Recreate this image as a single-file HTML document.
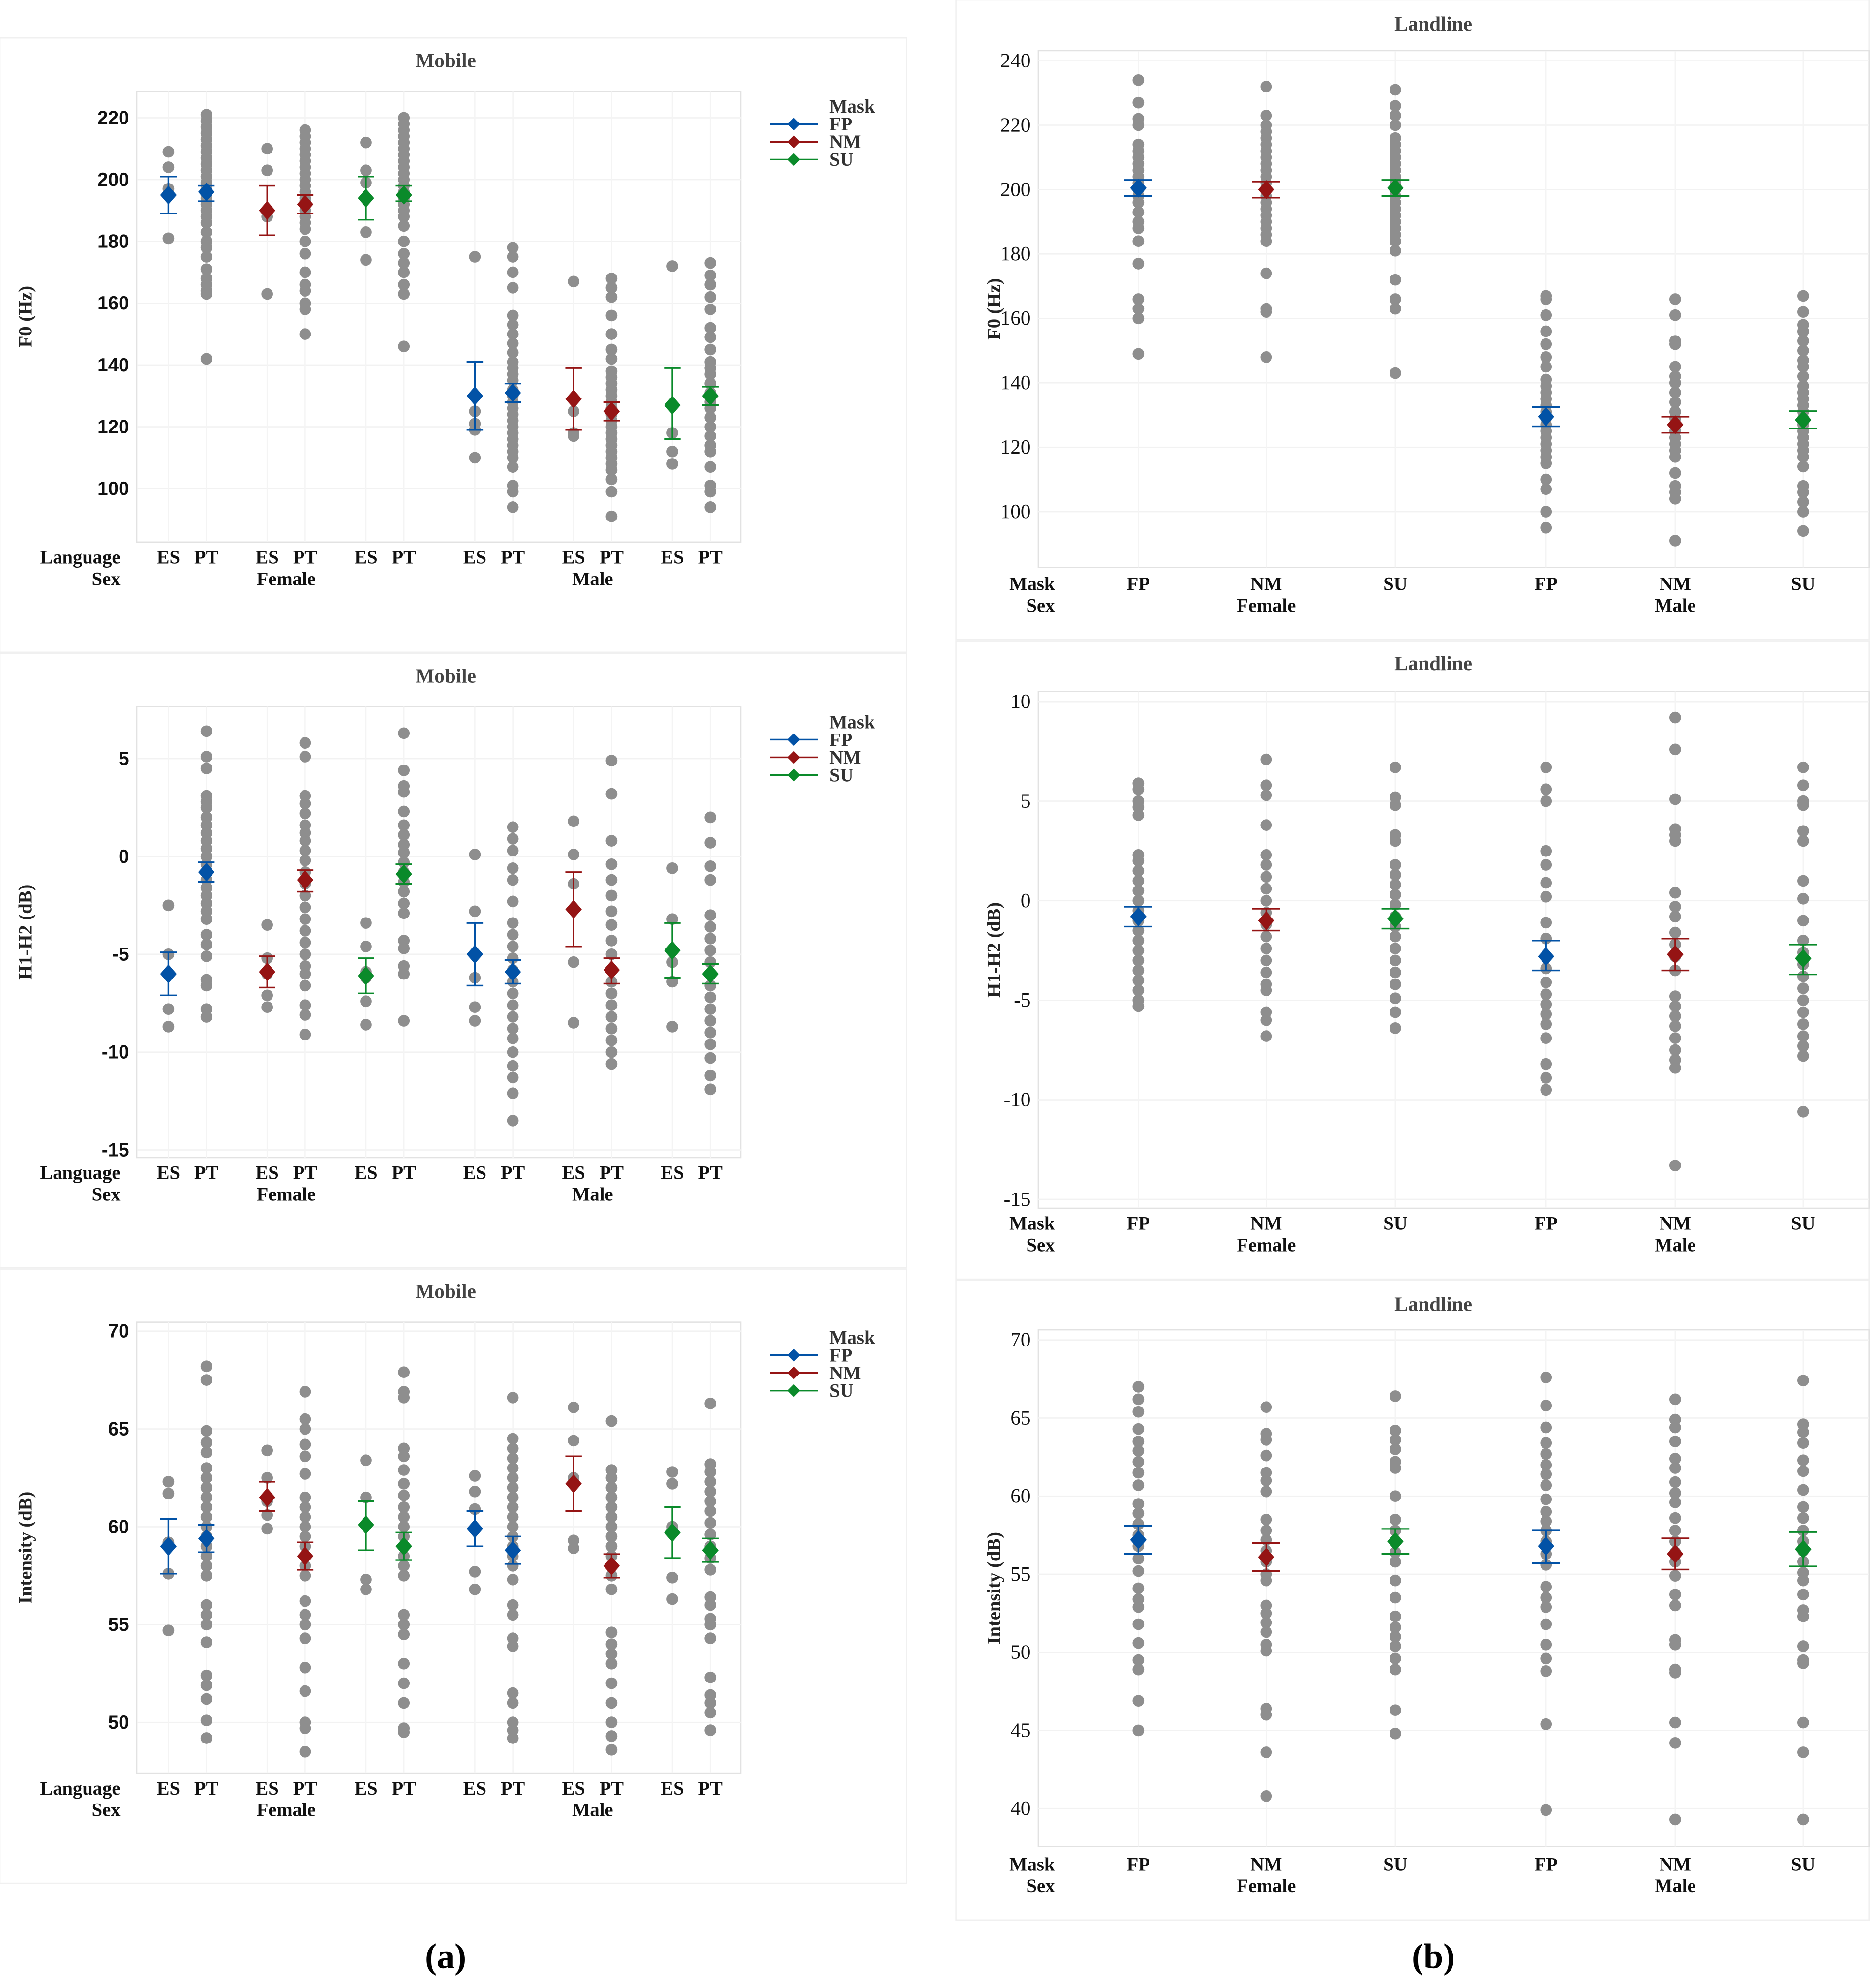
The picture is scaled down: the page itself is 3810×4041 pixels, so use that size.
<!DOCTYPE html>
<html><head><meta charset="utf-8"><style>
html,body{margin:0;padding:0;background:#fff;}
svg{display:block;}
.t{font-family:"Liberation Serif",serif;}
</style></head><body>
<svg id="chart" width="3810" height="4041" viewBox="0 0 1480 1569.7" preserveAspectRatio="none" xmlns="http://www.w3.org/2000/svg"></svg>
<script>
// ===== Mobile F0 =====
const mobF0Pts = [
[209,204,197,195,181],
[221,219,217,215,213,211,209,207,205,203,201,199,198,197,196,195,194,193,192,190,188,186,183,180,178,175,171,168,166,164,163,142],
[210,203,188,163],
[216,214,212,210,208,206,204,202,200,198,196,194,193,192,190,188,186,184,180,176,170,166,164,160,158,150],
[212,203,199,183,174],
[220,218,216,214,212,210,208,206,204,202,200,198,196,195,194,192,190,188,185,180,176,173,170,166,163,146],
[175,125,121,119,110],
[178,175,170,165,156,153,150,147,144,141,139,137,135,132,130,128,126,124,122,120,118,116,114,112,110,107,101,99,94],
[167,125,118,117],
[168,165,162,156,150,145,142,138,136,134,132,130,128,126,124,122,120,118,116,114,112,110,108,106,103,99,91],
[172,118,112,108],
[173,169,166,162,158,152,149,145,141,139,137,134,131,128,126,123,120,117,114,112,107,101,99,94]];
const mobF0Mean = [195,196,190,192,194,195,130,131,129,125,127,130];
const mobF0Lo = [189,193,182,189,187,193,119,128,119,122,116,127];
const mobF0Hi = [201,198,198,195,201,198,141,134,139,128,139,133];
const mobF0Ticks = [100,120,140,160,180,200,220];
// ===== Mobile H1-H2 =====
const mobH1Pts = [
[-2.5,-5,-6,-7.8,-8.7],
[6.4,5.1,4.5,3.1,2.8,2.5,2,1.6,1.2,0.8,0.4,0,-0.4,-0.8,-1.2,-1.6,-2,-2.4,-2.8,-3.2,-4,-4.5,-5.1,-6.3,-6.6,-7.8,-8.2],
[-3.5,-5.2,-6,-7.1,-7.7],
[5.8,5.1,3.1,2.7,2.2,1.6,1.2,0.8,0.3,-0.2,-0.8,-1.4,-2,-2.6,-3.2,-3.8,-4.4,-5,-5.6,-6,-6.6,-7.6,-8.1,-9.1],
[-3.4,-4.6,-5.9,-6.2,-7.4,-8.6],
[6.3,4.4,3.6,3.3,2.3,1.6,1.1,0.6,0.2,-0.3,-0.8,-1.3,-1.8,-2.4,-2.9,-4.3,-4.7,-5.6,-6,-8.4],
[0.1,-2.8,-6.2,-7.7,-8.4],
[1.5,0.9,0.3,-0.6,-1.2,-2.3,-3.4,-4,-4.6,-5.2,-5.8,-6.4,-7,-7.6,-8.2,-8.8,-9.3,-10,-10.7,-11.3,-12.1,-13.5],
[1.8,0.1,-1.4,-5.4,-8.5],
[4.9,3.2,0.8,-0.4,-1.2,-2,-2.8,-3.5,-4.3,-5,-5.8,-6.4,-7,-7.6,-8.2,-8.8,-9.4,-10,-10.6],
[-0.6,-3.2,-5.4,-6.4,-8.7],
[2,0.7,-0.5,-1.2,-3,-3.6,-4.2,-4.8,-5.4,-6,-6.6,-7.2,-7.8,-8.4,-9,-9.6,-10.3,-11.2,-11.9]];
const mobH1Mean = [-6,-0.8,-5.9,-1.2,-6.1,-0.9,-5,-5.9,-2.7,-5.8,-4.8,-6];
const mobH1Lo = [-7.1,-1.3,-6.7,-1.8,-7,-1.4,-6.6,-6.5,-4.6,-6.5,-6.2,-6.5];
const mobH1Hi = [-4.9,-0.3,-5.1,-0.7,-5.2,-0.4,-3.4,-5.3,-0.8,-5.2,-3.4,-5.5];
const mobH1Ticks = [-15,-10,-5,0,5];
// ===== Mobile Intensity =====
const mobIntPts = [
[62.3,61.7,59.2,57.6,54.7],
[68.2,67.5,64.9,64.3,63.8,63,62.5,62,61.5,61,60.5,60,59.5,59,58.5,58,57.5,56,55.5,55,54.1,52.4,51.9,51.2,50.1,49.2],
[63.9,62.5,61.3,60.6,59.9],
[66.9,65.5,65,64.2,63.6,62.7,61.5,61,60.5,60,59.5,59,58.5,58,57.5,56.2,55.5,55,54.3,52.8,51.6,50,49.7,48.5],
[63.4,61.5,57.3,56.8],
[67.9,66.9,66.6,64,63.6,62.9,62.2,61.6,61,60.5,60,59.5,59,58.5,58,57.5,55.5,55,54.5,53,52,51,49.7,49.5],
[62.6,61.8,60.9,57.7,56.8],
[66.6,64.5,64,63.5,63,62.5,62,61.5,61,60.5,60,59.5,59,58.5,58,57.3,56,55.5,54.3,53.9,51.5,51,50,49.6,49.2],
[66.1,64.4,62.5,59.3,58.9],
[65.4,62.9,62.5,62,61.5,61,60.5,60,59.5,59,58.5,58,57.5,56.8,54.6,54,53.5,53,52,51,50,49.3,48.6],
[62.8,62.2,60,57.4,56.3],
[66.3,63.2,62.8,62.3,61.8,61.3,60.8,60.2,59.6,59,58.4,57.8,56.4,56,55.3,55,54.3,52.3,51.4,51,50.5,49.6]];
const mobIntMean = [59,59.4,61.5,58.5,60.1,59,59.9,58.8,62.2,58,59.7,58.8];
const mobIntLo = [57.6,58.7,60.8,57.8,58.8,58.3,59,58.1,60.8,57.4,58.4,58.2];
const mobIntHi = [60.4,60.1,62.3,59.2,61.3,59.7,60.8,59.5,63.6,58.6,61,59.4];
const mobIntTicks = [50,55,60,65,70];
// ===== Landline F0 =====
const landF0Pts = [
[234,227,222,220,214,212,210,208,206,204,202,200,198,196,193,190,188,184,177,166,163,160,149],
[232,223,220,218,216,214,212,210,208,206,204,202,200,198,196,194,192,190,188,186,184,174,163,162,148],
[231,226,223,220,216,214,212,210,208,206,204,202,200,198,196,194,192,190,188,186,184,181,172,166,163,143],
[167,166,161,156,152,148,145,141,139,137,135,133,131,129,127,125,123,121,119,117,115,110,107,100,95],
[166,161,153,152,145,142,140,137,134,131,129,127,125,123,121,119,117,112,108,106,104,91],
[167,162,158,156,153,150,147,145,142,139,137,135,133,131,129,127,125,123,121,119,117,114,108,106,103,100,94]];
const landF0Mean = [200.5,200,200.5,129.5,127,128.5];
const landF0Lo = [198,197.5,198,126.5,124.5,125.8];
const landF0Hi = [203,202.5,203,132.5,129.5,131.2];
const landF0Ticks = [100,120,140,160,180,200,220,240];
// ===== Landline H1-H2 =====
const landH1Pts = [
[5.9,5.6,5,4.7,4.3,2.3,2,1.5,1,0.5,0,-0.5,-1,-1.5,-2,-2.5,-3,-3.5,-4,-4.5,-5,-5.3],
[7.1,5.8,5.3,3.8,2.3,1.8,1.2,0.6,0,-0.6,-1.2,-1.8,-2.4,-3,-3.6,-4.2,-4.5,-5.6,-6,-6.8],
[6.7,5.2,4.8,3.3,3,1.8,1.3,0.8,0.3,-0.2,-0.8,-1.3,-1.8,-2.4,-3,-3.6,-4.2,-4.9,-5.6,-6.4],
[6.7,5.6,5,2.5,1.8,0.9,0.2,-1.1,-1.9,-2.8,-3.4,-4.1,-4.7,-5.2,-5.7,-6.2,-6.9,-8.2,-8.9,-9.5],
[9.2,7.6,5.1,3.6,3.3,3,0.4,-0.3,-0.8,-1.6,-2.2,-2.8,-3.5,-4.8,-5.3,-5.8,-6.3,-6.9,-7.5,-8,-8.4,-13.3],
[6.7,5.8,5,4.8,3.5,3,1,0.1,-1,-2,-2.6,-3.2,-3.8,-4.4,-5,-5.6,-6.2,-6.8,-7.3,-7.8,-10.6]];
const landH1Mean = [-0.8,-1,-0.9,-2.8,-2.7,-2.9];
const landH1Lo = [-1.3,-1.5,-1.4,-3.5,-3.5,-3.7];
const landH1Hi = [-0.3,-0.4,-0.4,-2,-1.9,-2.2];
const landH1Ticks = [-15,-10,-5,0,5,10];
// ===== Landline Intensity =====
const landIntPts = [
[67,66.2,65.4,64.3,63.5,62.9,62.2,61.5,60.7,59.5,58.9,58.2,57.5,56.8,56,55.2,54.1,53.4,52.9,51.8,50.6,49.5,48.9,46.9,45],
[65.7,64,63.6,62.6,61.5,61,60.3,58.5,57.8,57.2,56.5,55.8,55,54.6,53,52.5,51.9,51.3,50.5,50.1,46.4,46,43.6,40.8],
[66.4,64.2,63.6,63,62.2,61.8,60,58.5,57.8,57.1,56.4,55.8,54.6,53.5,52.3,51.6,51,50.4,49.6,48.9,46.3,44.8],
[67.6,65.8,64.4,63.4,62.7,62,61.4,60.7,59.8,59,58.4,57.8,57.1,56.3,55.6,54.2,53.5,52.9,51.8,50.5,49.6,48.8,45.4,39.9],
[66.2,64.9,64.4,63.5,62.4,61.8,60.9,60.2,59.6,58.6,57.8,57.1,56.4,55.8,54.9,53.7,53,50.8,50.5,48.9,48.7,45.5,44.2,39.3],
[67.4,64.6,64.1,63.4,62.3,61.6,60.4,59.3,58.6,57.8,57.1,56.5,55.8,55.1,54.6,53.7,52.7,52.3,50.4,49.5,49.3,45.5,43.6,39.3]];
const landIntMean = [57.2,56.1,57.1,56.8,56.3,56.6];
const landIntLo = [56.3,55.2,56.3,55.7,55.3,55.5];
const landIntHi = [58.1,57,57.9,57.8,57.3,57.7];
const landIntTicks = [40,45,50,55,60,65,70];

const mobCats = ['ES','PT','ES','PT','ES','PT','ES','PT','ES','PT','ES','PT'];
const mobMask = ['FP','FP','NM','NM','SU','SU','FP','FP','NM','NM','SU','SU'];
const landCats = ['FP','NM','SU','FP','NM','SU'];
const sexLabels = ['Female','Male'];
const maskNames = ['FP','NM','SU'];

const COL = {FP:'#0252a6', NM:'#951414', SU:'#0a8a2a'};
const NS = 'http://www.w3.org/2000/svg';
const svg = document.getElementById('chart');
function mk(tag, attrs, parent){const e=document.createElementNS(NS,tag);for(const k in attrs)e.setAttribute(k,attrs[k]);(parent||svg).appendChild(e);return e;}
function txt(str, attrs, parent){const e=mk('text',attrs,parent);e.textContent=str;return e;}

function panel(o){
  const g = mk('g',{});
  
  
  const bg = mk('rect',{x:o.bx,y:o.by,width:o.bw,height:o.bh,fill:'#fff',stroke:'#f0f0f0','stroke-width':1},g);
  
  
  const ti = txt(o.title,{x:o.tx,y:o.ty,'text-anchor':'middle','font-size':16,'font-weight':'bold',fill:'#444',class:'t'},g);
  
  
  const y = v => o.y0 + (o.v0 - v) * o.pxPer;
  const x = i => o.cols[i];
  const pa = mk('rect',{x:o.px,y:o.py,width:o.pw,height:o.ph,fill:'none',stroke:'#e2e2e2','stroke-width':1},g);
  
  
  o.ticks.forEach(t=>{
    const gl = mk('line',{x1:o.px,x2:o.px+o.pw,y1:y(t),y2:y(t),stroke:'#f2f2f2','stroke-width':1},g);
    
    
    const tl = txt(String(t),{x:o.px-6,y:y(t)+5,'text-anchor':'end','font-size':o.tickSize,'font-weight':o.tickBold?'bold':'normal',fill:'#111','font-family':o.tickFont},g);
    
    
  });
  o.cols.forEach(cx=>{
    const vl = mk('line',{x1:cx,x2:cx,y1:o.py,y2:o.py+o.ph,stroke:'#f4f4f4','stroke-width':1},g);
    
    
  });
  const at = txt(o.ytitle,{x:0,y:0,transform:`translate(${o.ytx},${o.py+o.ph/2}) rotate(-90)`,'text-anchor':'middle','font-size':15,'font-weight':'bold',fill:'#222',class:'t'},g);
  
  
  o.pts.forEach((arr,i)=>{
    arr.forEach(v=>{
      const c = mk('circle',{cx:x(i),cy:y(v),r:4.6,fill:'#8e8e8e'},g);
      
      
    });
  });
  o.mean.forEach((m,i)=>{
    const col = COL[o.mask[i]];
    const cg = mk('g',{stroke:col,'stroke-width':1.3},g);
    
    
    const cw = o.capW;
    mk('line',{x1:x(i),x2:x(i),y1:y(o.lo[i]),y2:y(o.hi[i])},cg);
    mk('line',{x1:x(i)-cw,x2:x(i)+cw,y1:y(o.lo[i]),y2:y(o.lo[i])},cg);
    mk('line',{x1:x(i)-cw,x2:x(i)+cw,y1:y(o.hi[i]),y2:y(o.hi[i])},cg);
    const cx=x(i), cy=y(m);
    const d = mk('polygon',{points:`${cx},${cy-7.5} ${cx+6.5},${cy} ${cx},${cy+7.5} ${cx-6.5},${cy}`,fill:col},g);
    
    
  });
  const r1 = txt(o.row1,{x:o.rowX,y:o.ry1,'text-anchor':'end','font-size':15,'font-weight':'bold',fill:'#111',class:'t'},g);
  
  
  const r2 = txt('Sex',{x:o.rowX,y:o.ry1+17,'text-anchor':'end','font-size':15,'font-weight':'bold',fill:'#111',class:'t'},g);
  
  
  o.cats.forEach((c,i)=>{
    const l = txt(c,{x:x(i),y:o.ry1,'text-anchor':'middle','font-size':15,'font-weight':'bold',fill:'#111',class:'t'},g);
    
    
  });
  sexLabels.forEach((s,k)=>{
    const l = txt(s,{x:o.sexX[k],y:o.ry1+17,'text-anchor':'middle','font-size':15,'font-weight':'bold',fill:'#111',class:'t'},g);
    
    
  });
  if(o.legend){
    const lg = mk('g',{},g);
    
    
    const ly = o.by + 54;
    txt('Mask',{x:655,y:ly+5,'font-size':15,'font-weight':'bold',fill:'#333',class:'t'},lg);
    maskNames.forEach((m,k)=>{
      const yy = ly + 14*(k+1);
      const e = mk('g',{},lg);
      
      
      mk('line',{x1:608,x2:646,y1:yy,y2:yy,stroke:COL[m],'stroke-width':1.3},e);
      mk('polygon',{points:`627,${yy-5} 632,${yy} 627,${yy+5} 622,${yy}`,fill:COL[m]},e);
      txt(m,{x:655,y:yy+5,'font-size':15,'font-weight':'bold',fill:'#333',class:'t'},e);
    });
  }
}

const mobCols=[133,163,211,241,289,319,375,405,453,483,531,561];
const landCols=[899,1000,1102,1221,1323,1424];
const L={bx:0,bw:716,px:108,pw:477,ph:356,cols:mobCols,mask:mobMask,cats:mobCats,row1:'Language',rowX:95,sexX:[226,468],tx:352,ytx:25,tickSize:15,tickBold:true,tickFont:'"Liberation Sans Narrow","Liberation Sans",sans-serif',legend:true,capW:6.5};
panel(Object.assign({},L,{name:'mobile-f0-chart',by:30,bh:485,ty:53,title:'Mobile',py:72,y0:93,v0:220,pxPer:48.8/20,ticks:mobF0Ticks,pts:mobF0Pts,mean:mobF0Mean,lo:mobF0Lo,hi:mobF0Hi,ytitle:'F0 (Hz)',ry1:445}));
panel(Object.assign({},L,{name:'mobile-h1h2-chart',by:516,bh:485,ty:539,title:'Mobile',py:558,y0:599,v0:5,pxPer:77.25/5,ticks:mobH1Ticks,pts:mobH1Pts,mean:mobH1Mean,lo:mobH1Lo,hi:mobH1Hi,ytitle:'H1-H2 (dB)',ry1:931}));
panel(Object.assign({},L,{name:'mobile-intensity-chart',by:1002,bh:485,ty:1025,title:'Mobile',py:1044,y0:1051,v0:70,pxPer:309/20,ticks:mobIntTicks,pts:mobIntPts,mean:mobIntMean,lo:mobIntLo,hi:mobIntHi,ytitle:'Intensity (dB)',ry1:1417}));
const R={bx:755,bw:721,px:820,pw:656,ph:408,cols:landCols,mask:landCats,cats:landCats,row1:'Mask',rowX:833,sexX:[1000,1323],tx:1132,ytx:790,tickSize:16,tickBold:false,tickFont:'"Liberation Serif",serif',legend:false,capW:11};
panel(Object.assign({},R,{name:'landline-f0-chart',by:0,bh:505,ty:24,title:'Landline',py:40,y0:48,v0:240,pxPer:356/140,ticks:landF0Ticks,pts:landF0Pts,mean:landF0Mean,lo:landF0Lo,hi:landF0Hi,ytitle:'F0 (Hz)',ry1:466}));
panel(Object.assign({},R,{name:'landline-h1h2-chart',by:506,bh:504,ty:529,title:'Landline',py:546,y0:554,v0:10,pxPer:393/25,ticks:landH1Ticks,pts:landH1Pts,mean:landH1Mean,lo:landH1Lo,hi:landH1Hi,ytitle:'H1-H2 (dB)',ry1:971}));
panel(Object.assign({},R,{name:'landline-intensity-chart',by:1011,bh:505,ty:1035,title:'Landline',py:1050,y0:1058,v0:70,pxPer:370/30,ticks:landIntTicks,pts:landIntPts,mean:landIntMean,lo:landIntLo,hi:landIntHi,ytitle:'Intensity (dB)',ry1:1477}));

const ca = txt('(a)',{x:352,y:1554,'text-anchor':'middle','font-size':28,'font-weight':'bold',fill:'#000',class:'t'});


const cb = txt('(b)',{x:1132,y:1554,'text-anchor':'middle','font-size':28,'font-weight':'bold',fill:'#000',class:'t'});


</script>
</body></html>
